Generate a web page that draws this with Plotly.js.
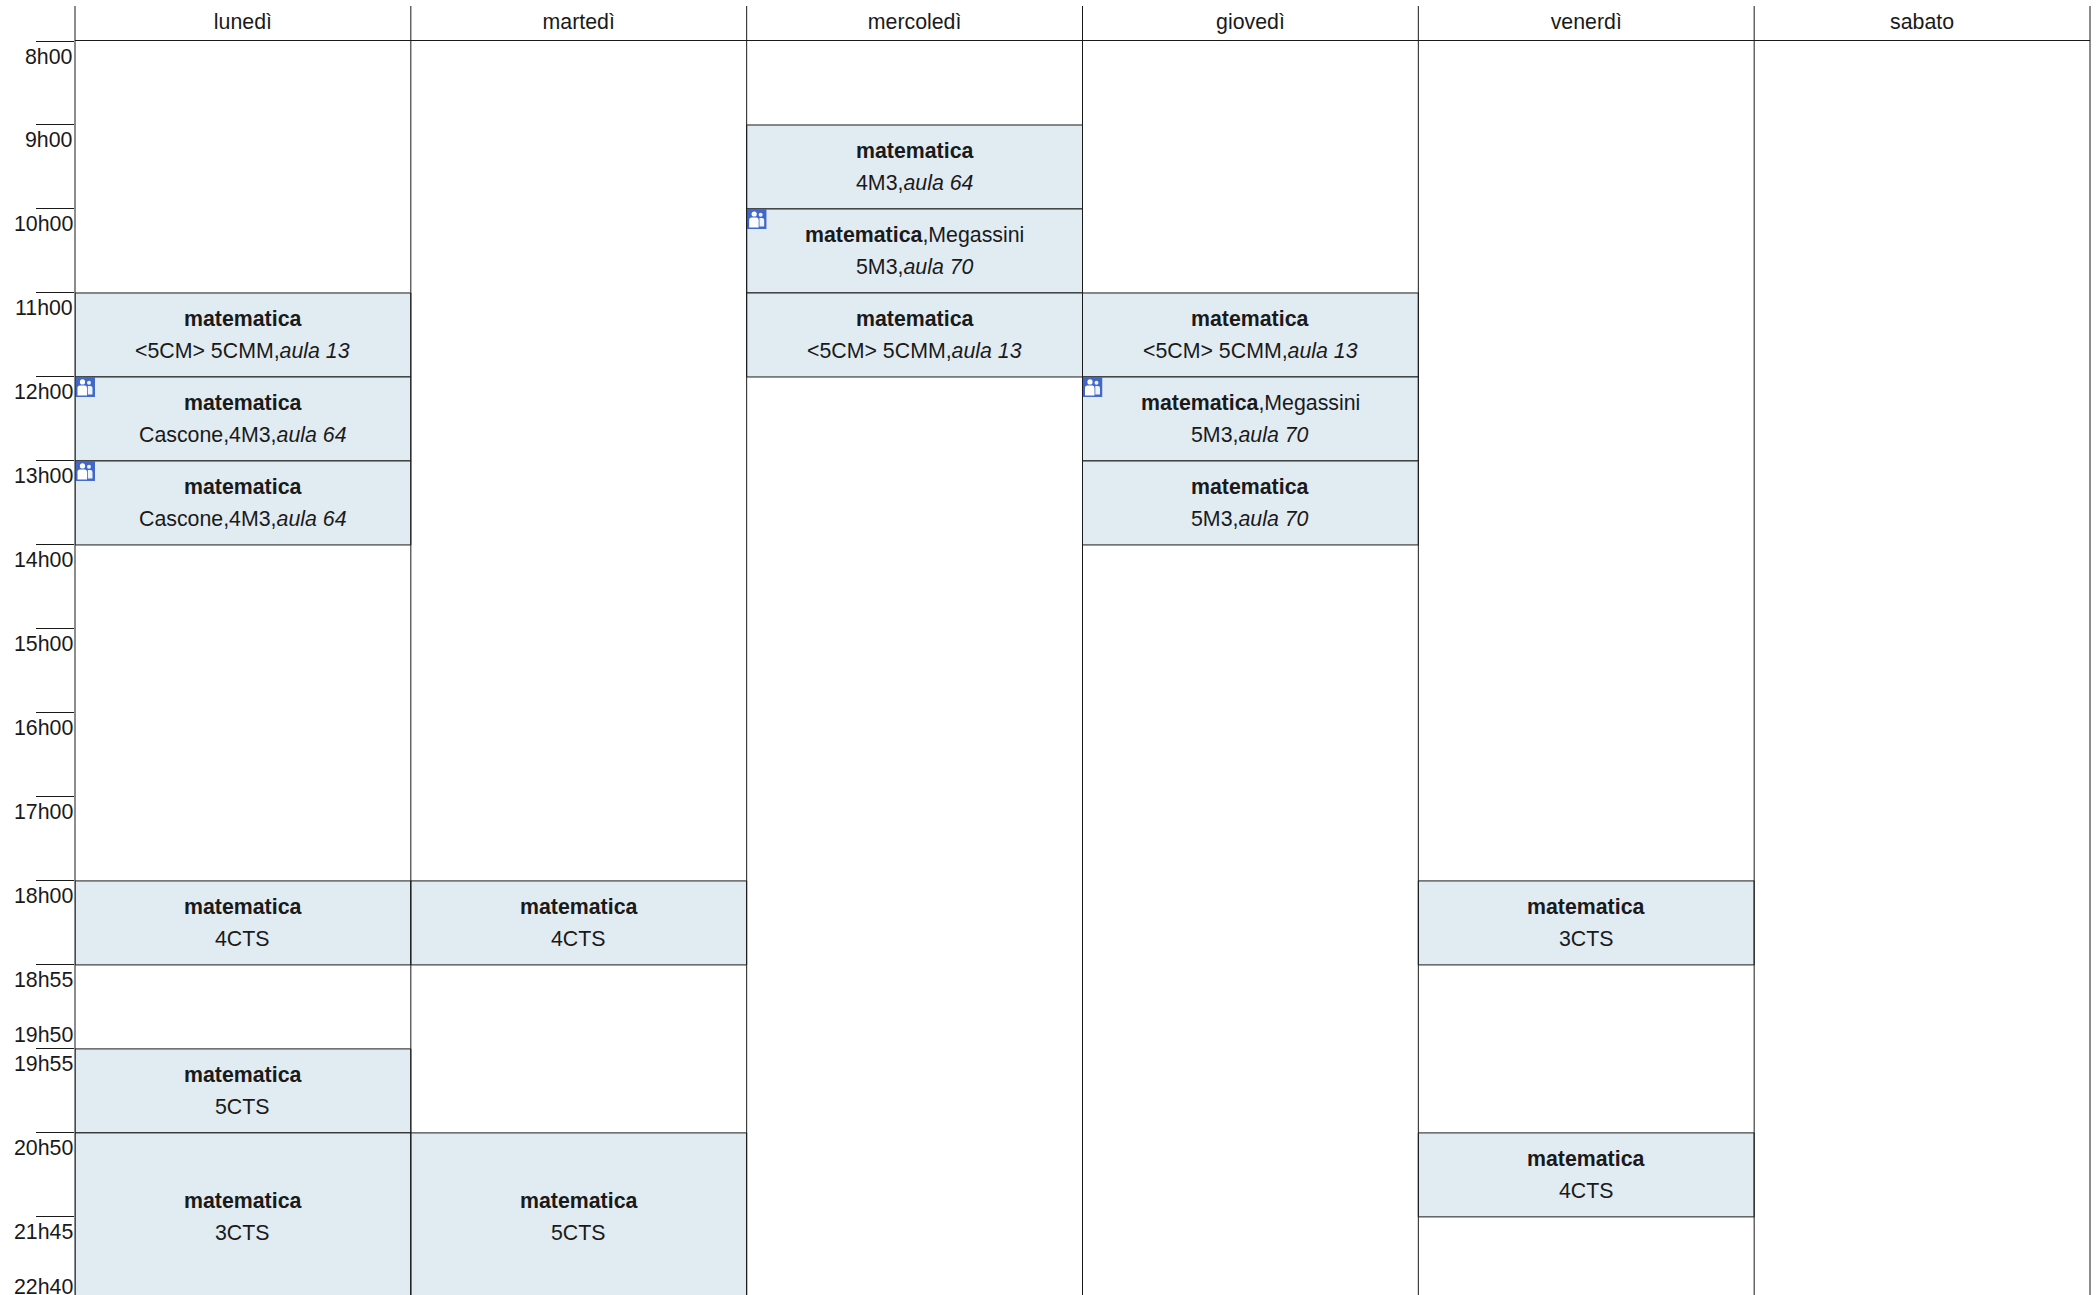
<!DOCTYPE html>
<html><head><meta charset="utf-8">
<script src="https://cdn.plot.ly/plotly-3.0.1.min.js"></script>
<style>html,body{margin:0;padding:0;background:#fff;overflow:hidden}#c{width:2098px;height:1295px}</style>
</head><body><div id="c"></div>
<script>
const days = ['lunedì','martedì','mercoledì','giovedì','venerdì','sabato'];
const slotTop = ['8h00','9h00','10h00','11h00','12h00','13h00','14h00','15h00','16h00','17h00','18h00','18h55','19h55','20h50','21h45'];
const slotBottom = [[12,'19h50',-0.5],[14.93,'22h40',-4]];
const cellDay   = [0,0,0,0,0,0, 1,1, 2,2,2, 3,3,3, 4,4];
const cellStart = [3,4,5,10,12,13, 10,13, 1,2,3, 3,4,5, 10,13];
const cellLen   = [1,1,1,1,1,2, 1,2, 1,1,1, 1,1,1, 1,1];
const cellLine1 = ['<b>matematica</b>','<b>matematica</b>','<b>matematica</b>','<b>matematica</b>','<b>matematica</b>','<b>matematica</b>',
  '<b>matematica</b>','<b>matematica</b>',
  '<b>matematica</b>','<b>matematica</b>,Megassini','<b>matematica</b>',
  '<b>matematica</b>','<b>matematica</b>,Megassini','<b>matematica</b>',
  '<b>matematica</b>','<b>matematica</b>'];
const cellLine2 = ['&lt;5CM&gt; 5CMM,<i>aula 13</i>','Cascone,4M3,<i>aula 64</i>','Cascone,4M3,<i>aula 64</i>','4CTS','5CTS','3CTS',
  '4CTS','5CTS',
  '4M3,<i>aula 64</i>','5M3,<i>aula 70</i>','&lt;5CM&gt; 5CMM,<i>aula 13</i>',
  '&lt;5CM&gt; 5CMM,<i>aula 13</i>','5M3,<i>aula 70</i>','5M3,<i>aula 70</i>',
  '3CTS','4CTS'];
const cellIcon = [0,1,1,0,0,0, 0,0, 0,1,0, 0,1,0, 0,0];

const INK='#1a1a1a', FONT='"Liberation Sans", Arial, sans-serif', FS=21.33;
const iconSvg = "data:image/svg+xml;utf8," + encodeURIComponent(
 '<svg xmlns="http://www.w3.org/2000/svg" width="20" height="20" viewBox="0 0 20 20">'+
 '<rect width="20" height="20" fill="#4168c8"/>'+
 '<circle cx="7.5" cy="5" r="2.6" fill="#fff"/><circle cx="14" cy="5.8" r="2" fill="#eef3fb"/>'+
 '<path d="M2.5 18.5V11Q2.5 8.5 5 8.5H10Q12 8.5 12 11V18.5Z" fill="#fff"/>'+
 '<path d="M12.8 9H15.5Q17.5 9 17.5 11V17.5H12.8Z" fill="#eef3fb"/></svg>');

const edges = days.map((_,i)=>i).concat([days.length]);
const shapes = edges.map(i=>({type:'line',xref:'paper',yref:'paper',x0:i/days.length,x1:i/days.length,y0:0,y1:1+35/1254,line:{color:INK,width:1},layer:'above'}));

const ann = [];
slotTop.forEach((t,i)=>ann.push({xref:'paper',yref:'y',x:0,y:i,text:t,showarrow:false,xanchor:'right',yanchor:'top',yshift:-1.5,font:{family:FONT,size:FS,color:INK}}));
slotBottom.forEach(([y,t,s],i)=>ann.push({xref:'paper',yref:'y',x:0,y:y,text:t,showarrow:false,xanchor:'right',yanchor:'bottom',yshift:s,height:i===1?20:undefined,font:{family:FONT,size:FS,color:INK}}));
cellDay.forEach((d,i)=>{
  const y=cellStart[i]+cellLen[i]/2;
  ann.push({xref:'x',yref:'y',x:d+0.5,y:y,text:cellLine1[i],showarrow:false,yshift:16,font:{family:FONT,size:FS,color:INK}});
  ann.push({xref:'x',yref:'y',x:d+0.5,y:y,text:cellLine2[i],showarrow:false,yshift:-16,font:{family:FONT,size:FS,color:INK}});
});
const images = cellDay.map((d,i)=>cellIcon[i]?{source:iconSvg,xref:'x',yref:'y',x:d,y:cellStart[i],sizex:20/336,sizey:20/84,sizing:'stretch',xanchor:'left',yanchor:'top',layer:'above'}:null).filter(Boolean);

Plotly.newPlot('c',[{
  type:'bar',
  x:cellDay.map(d=>d+0.5),
  y:cellLen,
  base:cellStart,
  width:cellDay.map(()=>1),
  marker:{color:'#e1ebf2',line:{color:INK,width:1}},
  hoverinfo:'skip',
  showlegend:false
}],{
  width:2098,height:1295,
  margin:{l:74.5,r:7.5,t:41,b:0,pad:0},
  paper_bgcolor:'#fff',plot_bgcolor:'#fff',
  showlegend:false,
  xaxis:{range:[0,6],side:'top',tickvals:days.map((_,i)=>i+0.5),ticktext:days,ticks:'',showgrid:false,zeroline:false,ticklabelstandoff:2,
    showline:true,linecolor:INK,linewidth:1,tickfont:{family:FONT,size:FS,color:INK},fixedrange:true,automargin:false},
  yaxis:{range:[14.93,0],tickvals:slotTop.map((_,i)=>i),ticks:'outside',ticklen:38,tickcolor:INK,tickwidth:1,showticklabels:false,showgrid:false,zeroline:false,showline:false,fixedrange:true,automargin:false},
  shapes:shapes,annotations:ann,images:images
},{staticPlot:true,displayModeBar:false});
</script></body></html>
